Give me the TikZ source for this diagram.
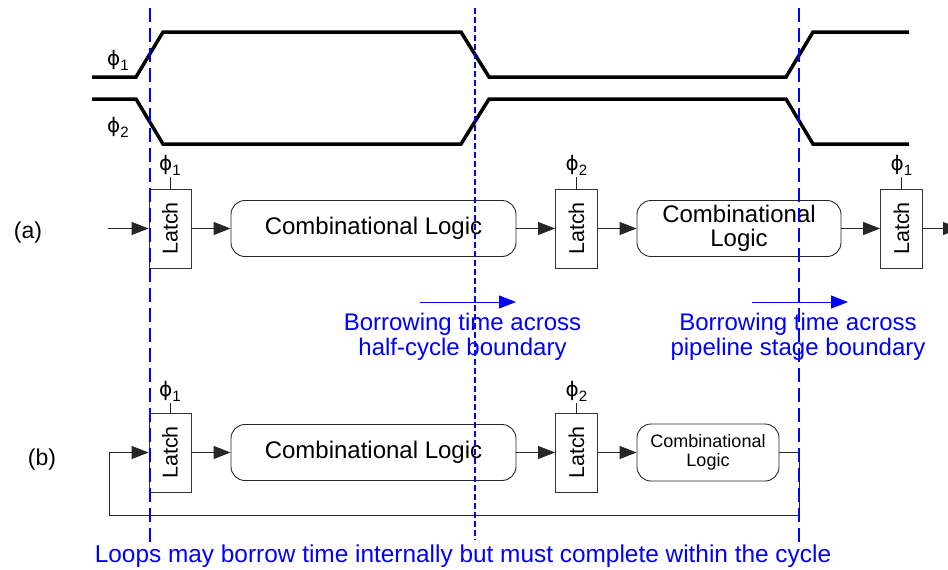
\documentclass[tikz,border=0pt]{standalone}
\usepackage{fontspec}
\setmainfont{Liberation Sans}
\newfontfamily\symf{DejaVu Sans}
\usetikzlibrary{arrows.meta}
\definecolor{pblue}{RGB}{0,0,255}
% phase symbol with its index
\newcommand\phz[1]{{\symf\fontsize{20}{20}\selectfont ϕ}{\fontsize{15}{15}\selectfont\raisebox{-5pt}{#1}}}
\tikzset{
  x=1pt, y=-1pt,
  wave/.style={line width=3.5pt, line join=miter},
  latchbox/.style={draw=black!80, line width=0.9pt, minimum width=42pt, minimum height=79pt,
    inner sep=0pt, font=\fontsize{21.5}{21.5}\selectfont},
  logicbox/.style={draw=black!85, rounded corners=14pt, line width=0.9pt, inner sep=0pt,
    align=center, font=\fontsize{24}{24}\selectfont},
  wire/.style={line width=0.9pt, draw=black!85},
  sig/.style={wire, -{Triangle[length=17pt,width=13pt]}},
  phlabel/.style={inner sep=1pt, anchor=south},
  cycleline/.style={draw=pblue, line width=2pt, dash pattern=on 14pt off 6pt},
  halfline/.style={draw=pblue, line width=1.3pt, dash pattern=on 6pt off 3pt},
  borrow/.style={draw=pblue, line width=1pt, -{Triangle[length=17pt,width=13pt]}},
  note/.style={text=pblue, align=center, font=\fontsize{24}{25}\selectfont},
  tag/.style={font=\fontsize{23}{23}\selectfont},
}
\newcommand\latchtxt{\rotatebox{90}{Latch}}
\begin{document}
\begin{tikzpicture}
\clip (0,0) rectangle (948,570);
\fill[white] (0,0) rectangle (948,570);

% clock waveforms
\draw[wave] (92,77) -- (136,77) -- (163,32) -- (461,32) -- (489,77) -- (786,77) -- (813,32) -- (909,32);
\draw[wave] (92,99) -- (136,99) -- (163,144) -- (461,144) -- (489,99) -- (786,99) -- (813,144) -- (909,144);
\node[tag] (w1) at (118,60) {\phz1};
\node[tag] (w2) at (118,127) {\phz2};

% (a) pipeline
\node[tag] (la) at (28,233) {(a)};
\node[latchbox] (lat1a) at (170,228.5) {\latchtxt};
\node[logicbox, minimum width=285pt, minimum height=56pt] (cl1a) at (373.5,228.5) {Combinational Logic};
\node[latchbox] (lat2a) at (576.5,228.5) {\latchtxt};
\node[logicbox, minimum width=204pt, minimum height=56pt] (cl2a) at (739,228.5) {Combinational\\Logic};
\node[latchbox] (lat3a) at (901.5,228.5) {\latchtxt};
\coordinate (ina) at (108,228.5);
\coordinate (outa) at (960,228.5);
\draw[sig] (ina) -- (lat1a.west);
\draw[sig] (lat1a.east) -- (cl1a.west);
\draw[sig] (cl1a.east) -- (lat2a.west);
\draw[sig] (lat2a.east) -- (cl2a.west);
\draw[sig] (cl2a.east) -- (lat3a.west);
\draw[sig] (lat3a.east) -- (outa);
\draw[wire] (lat1a.north) -- ++(0,-12) node[phlabel] (p1a) {\phz1};
\draw[wire] (lat2a.north) -- ++(0,-12) node[phlabel] (p2a) {\phz2};
\draw[wire] (lat3a.north) -- ++(0,-12) node[phlabel] (p3a) {\phz1};

% time borrowing notes
\coordinate (b1s) at (420,302); \coordinate (b1e) at (516,302);
\coordinate (b2s) at (752,302); \coordinate (b2e) at (848,302);
\draw[borrow] (b1s) -- (b1e);
\draw[borrow] (b2s) -- (b2e);
\node[note] (n1) at (462.5,336.5) {Borrowing time across\\half-cycle boundary};
\node[note] (n2) at (798,336.5) {Borrowing time across\\pipeline stage boundary};

% (b) loop
\node[tag] (lb) at (42,460) {(b)};
\node[latchbox] (lat1b) at (170,452.5) {\latchtxt};
\node[logicbox, minimum width=285pt, minimum height=56pt] (cl1b) at (373.5,452.5) {Combinational Logic};
\node[latchbox] (lat2b) at (576.5,452.5) {\latchtxt};
\node[logicbox, minimum width=142pt, minimum height=57pt, font=\fontsize{18}{19}\selectfont] (cl2b) at (708,452.5) {Combinational\\Logic};
\draw[sig] (lat1b.east) -- (cl1b.west);
\draw[sig] (cl1b.east) -- (lat2b.west);
\draw[sig] (lat2b.east) -- (cl2b.west);
\coordinate (fbr) at (799,515);
\coordinate (fbl) at (109,515);
\draw[sig] (cl2b.east) -| (fbr) -- (fbl) |- (lat1b.west);
\draw[wire] (lat1b.north) -- ++(0,-10) node[phlabel] (p1b) {\phz1};
\draw[wire] (lat2b.north) -- ++(0,-10) node[phlabel] (p2b) {\phz2};

\node[note, font=\fontsize{24.4}{25}\selectfont] (n3) at (463,556.5) {Loops may borrow time internally but must complete within the cycle};

% cycle and half-cycle boundaries
\coordinate (c0t) at (150,8);  \coordinate (c0b) at (150,542);
\coordinate (c1t) at (475,8);  \coordinate (c1b) at (475,540);
\coordinate (c2t) at (799,8);  \coordinate (c2b) at (799,542);
\draw[cycleline] (c0t) -- (c0b);
\draw[halfline] (c1t) -- (c1b);
\draw[cycleline] (c2t) -- (c2b);
\end{tikzpicture}
\end{document}
